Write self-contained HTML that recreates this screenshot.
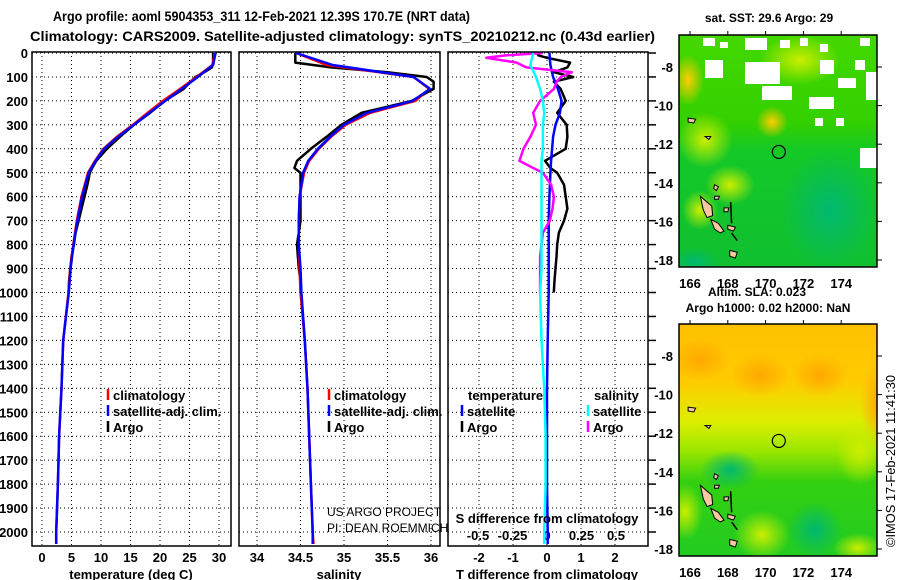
<!DOCTYPE html>
<html><head><meta charset="utf-8">
<style>
html,body{margin:0;padding:0;background:#fff;}
svg{display:block;font-family:"Liberation Sans",sans-serif;}
.t{font-size:13px;font-weight:bold;fill:#000;}
</style></head>
<body>
<svg id="chart" width="900" height="580" viewBox="0 0 900 580" xmlns="http://www.w3.org/2000/svg">
<defs>
<clipPath id="cm1"><rect x="679" y="35" width="198" height="232"/></clipPath>
<clipPath id="cm2"><rect x="679" y="324" width="198" height="232"/></clipPath>
<linearGradient id="g2" x1="0" y1="0" x2="0" y2="1">
<stop offset="0" stop-color="#ffc000"/><stop offset="0.25" stop-color="#ffcc00"/><stop offset="0.42" stop-color="#ddee00"/><stop offset="0.55" stop-color="#99e600"/><stop offset="0.68" stop-color="#33d010"/><stop offset="1" stop-color="#22cc22"/>
</linearGradient>
<linearGradient id="g1" x1="0" y1="0" x2="0" y2="1">
<stop offset="0" stop-color="#44d800"/><stop offset="0.38" stop-color="#33d000"/><stop offset="0.5" stop-color="#14c828"/><stop offset="1" stop-color="#10c030"/>
</linearGradient>
<radialGradient id="rg1"><stop offset="0" stop-color="#ffa800"/><stop offset="1" stop-color="#ffa800" stop-opacity="0"/></radialGradient>
<radialGradient id="rg2"><stop offset="0" stop-color="#ccee00"/><stop offset="1" stop-color="#ccee00" stop-opacity="0"/></radialGradient>
<radialGradient id="rg3"><stop offset="0" stop-color="#00b870"/><stop offset="1" stop-color="#00b870" stop-opacity="0"/></radialGradient>
<radialGradient id="rg4"><stop offset="0" stop-color="#ffcc00"/><stop offset="1" stop-color="#ffcc00" stop-opacity="0"/></radialGradient>
</defs>
<text class="t" x="53" y="21" textLength="417" lengthAdjust="spacingAndGlyphs" style="font-size:14px">Argo profile: aoml 5904353_311 12-Feb-2021 12.39S 170.7E (NRT data)</text>
<text class="t" x="30" y="41" textLength="625" lengthAdjust="spacingAndGlyphs" style="font-size:14px">Climatology: CARS2009. Satellite-adjusted climatology: synTS_20210212.nc (0.43d earlier)</text>
<g id="plots"></g>
<g id="maps"></g>
<text class="t" transform="translate(895,547) rotate(-90)" textLength="172" lengthAdjust="spacingAndGlyphs" style="font-weight:normal;font-size:13px">©IMOS 17-Feb-2021 11:41:30</text>
</svg>
<script>
// ---- data ----
const climDepth = [0,50,100,150,200,250,300,350,400,450,500,600,700,800,900,1000,1200,1400,1600,1800,2000,2050];
const climT = [29.3,28.9,26.2,23.4,20.5,17.9,15.4,12.7,10.4,9.0,7.8,6.7,5.9,5.3,4.8,4.5,3.6,3.3,2.9,2.7,2.4,2.4];
const satT = [29.4,29.0,26.4,23.7,20.9,18.2,15.6,12.9,10.5,9.1,7.9,6.8,6.0,5.35,4.85,4.55,3.6,3.3,2.9,2.7,2.4,2.4];
const climS = [34.45,34.8,35.8,35.98,35.82,35.3,35.02,34.85,34.71,34.6,34.54,34.49,34.48,34.48,34.49,34.5,34.55,34.58,34.6,34.62,34.64,34.65];
const satS = [34.45,34.87,35.8,35.99,35.79,35.26,35.0,34.84,34.7,34.59,34.53,34.49,34.48,34.48,34.5,34.51,34.55,34.58,34.6,34.62,34.64,34.64];
const satTdiff = [0.07,0.1,0.18,0.32,0.43,0.38,0.25,0.18,0.15,0.12,0.1,0.07,0.05,0.05,0.05,0.05,0.02,0,0,0,0.02,0.02];
const satSdiff = [-0.1,-0.12,-0.08,-0.05,-0.03,-0.02,-0.03,-0.03,-0.03,-0.04,-0.04,-0.04,-0.04,-0.04,-0.04,-0.05,-0.04,-0.02,-0.01,-0.01,-0.02,-0.02];
const argoDepth = [0,10,20,40,60,80,100,120,150,200,250,300,350,400,450,480,500,550,600,650,700,750,800,850,900,950,1000];
const argoT = [29.0,29.0,29.0,29.0,28.8,27.5,26.0,25.2,24.0,20.8,18.3,15.6,13.2,11.0,9.2,8.5,8.1,7.7,7.2,6.7,6.2,5.7,5.4,5.0,4.8,4.6,4.5];
const argoS = [34.44,34.44,34.44,34.44,34.85,35.5,35.95,36.03,36.03,35.78,35.2,34.97,34.8,34.62,34.46,34.43,34.5,34.5,34.5,34.5,34.5,34.48,34.46,34.47,34.48,34.5,34.5];
const argoTdiff = [-0.3,-0.25,0.0,0.68,0.6,0.2,0.77,0.2,0.4,0.55,0.3,0.58,0.6,0.55,-0.06,0.1,0.3,0.5,0.55,0.6,0.5,0.35,0.3,0.28,0.25,0.22,0.2];
const argoSdiff = [-0.03,-0.3,-0.44,-0.22,-0.15,0.18,0.1,0.07,0.05,-0.05,-0.1,-0.08,-0.12,-0.17,-0.2,-0.1,-0.03,0.03,0.05,0.04,0.02,-0.03,-0.04,-0.05,-0.05,-0.05,-0.05];
const depthTicks = [0,100,200,300,400,500,600,700,800,900,1000,1100,1200,1300,1400,1500,1600,1700,1800,1900,2000];
const tTicks = [0,5,10,15,20,25,30];
const sTicks = [34,34.5,35,35.5,36];
const sTickLabels = ["34","34.5","35","35.5","36"];
const dTTicks = [-2,-1,0,1,2];
const dSTicks = [-0.5,-0.25,0,0.25,0.5];

const NS = "http://www.w3.org/2000/svg";
const plots = document.getElementById('plots');
function mk(tag, attrs, parent){const e=document.createElementNS(NS,tag);for(const k in attrs)e.setAttribute(k,attrs[k]);(parent||plots).appendChild(e);return e;}
const yD = d => 53 + d*0.2395;
const TOP=52, BOT=546;
const xT = v => 42 + v*5.9;
const xS = v => 257 + (v-34)*87;
const xdT = v => 547 + v*34;
const xdS = v => 547 + v*138;
const panels = [{l:32,r:231},{l:239,r:440},{l:448,r:648}];

panels.forEach((p,i)=>{
  depthTicks.forEach(d=>{
    const ln = mk('line',{x1:p.l,x2:p.r,y1:yD(d),y2:yD(d),stroke:'#000','stroke-width':1,'stroke-dasharray':'1,3'});
    
    
  });
});
tTicks.forEach(v=>{const ln=mk('line',{x1:xT(v),x2:xT(v),y1:TOP,y2:BOT,stroke:'#000','stroke-dasharray':'1,3'});
  
  const t=mk('text',{x:xT(v),y:562,'text-anchor':'middle',class:'t'});t.textContent=v;
  });
sTicks.forEach((v,i)=>{const ln=mk('line',{x1:xS(v),x2:xS(v),y1:TOP,y2:BOT,stroke:'#000','stroke-dasharray':'1,3'});
  
  const t=mk('text',{x:xS(v),y:562,'text-anchor':'middle',class:'t'});t.textContent=sTickLabels[i];
  });
dTTicks.forEach(v=>{const ln=mk('line',{x1:xdT(v),x2:xdT(v),y1:TOP,y2:BOT,stroke:'#000','stroke-dasharray':'1,3'});
  
  const t=mk('text',{x:xdT(v),y:562,'text-anchor':'middle',class:'t'});t.textContent=v;
  });
dSTicks.forEach(v=>{const t=mk('text',{x:xdS(v),y:540,'text-anchor':'middle',class:'t'});t.textContent=v;
  });
depthTicks.forEach(d=>{const t=mk('text',{x:28,y:yD(d)+5,'text-anchor':'end',class:'t'});t.textContent=d;
  
  const tk=mk('line',{x1:648,x2:656,y1:yD(d),y2:yD(d),stroke:'#000','stroke-width':1.5});
  });

function series(xs, ys, xf, color, name){
  const pts = xs.map((v,i)=>xf(v).toFixed(1)+','+yD(ys[i]).toFixed(1)).join(' ');
  const pl = mk('polyline',{points:pts,fill:'none',stroke:color,'stroke-width':2.5,'stroke-linejoin':'round'});
  
  
}
series(argoT,argoDepth,xT,'#000','argo-temperature-line');
series(climT,climDepth,xT,'#ff0000','climatology-temperature-line');
series(satT,climDepth,xT,'#0000ff','satellite-temperature-line');
series(argoS,argoDepth,xS,'#000','argo-salinity-line');
series(climS,climDepth,xS,'#ff0000','climatology-salinity-line');
series(satS,climDepth,xS,'#0000ff','satellite-salinity-line');
series(argoTdiff,argoDepth,xdT,'#000','argo-t-diff-line');
series(satTdiff,climDepth,xdT,'#0000ff','satellite-t-diff-line');
series(argoSdiff,argoDepth,xdS,'#ff00ff','argo-s-diff-line');
series(satSdiff,climDepth,xdS,'#00ffff','satellite-s-diff-line');

panels.forEach(p=>{const r=mk('rect',{x:p.l,y:TOP,width:p.r-p.l,height:BOT-TOP,fill:'none',stroke:'#000','stroke-width':1.5});
  });

[['temperature (deg C)',131,'temperature-axis-title'],['salinity',339,'salinity-axis-title'],['T difference from climatology',547,'t-diff-axis-title']].forEach(a=>{
  const t=mk('text',{x:a[1],y:579,'text-anchor':'middle',class:'t'});t.textContent=a[0];
  });
{const t=mk('text',{x:547,y:523,'text-anchor':'middle',class:'t'});t.textContent='S difference from climatology';
 }

function legend(x,y,color,label,name){
  const g=mk('g',{});
  mk('line',{x1:x,x2:x,y1:y-11,y2:y,stroke:color,'stroke-width':2.5},g);
  const t=mk('text',{x:x+5,y:y,class:'t'},g);t.textContent=label;
}
legend(108,400,'#ff0000','climatology','legend-climatology');
legend(108,416,'#0000ff','satellite-adj. clim.','legend-satellite-adj');
legend(108,432,'#000','Argo','legend-argo');
legend(329,400,'#ff0000','climatology','legend-climatology-s');
legend(329,416,'#0000ff','satellite-adj. clim.','legend-satellite-adj-s');
legend(329,432,'#000','Argo','legend-argo-s');
{const t=mk('text',{x:468,y:400,class:'t'});t.textContent='temperature';
 const t2=mk('text',{x:594,y:400,class:'t'});t2.textContent='salinity';}
legend(462,416,'#0000ff','satellite','legend-t-satellite');
legend(462,432,'#000','Argo','legend-t-argo');
legend(588,416,'#00ffff','satellite','legend-s-satellite');
legend(588,432,'#ff00ff','Argo','legend-s-argo');
{const t=mk('text',{x:327,y:516,style:'font-size:12px'});t.textContent='US ARGO PROJECT';
 const t2=mk('text',{x:327,y:532,style:'font-size:12px'});t2.textContent='PI: DEAN ROEMMICH';}

// ---- maps ----
const maps = document.getElementById('maps');
const lonTicks = [166,168,170,172,174];
const latTicks = [-8,-10,-12,-14,-16,-18];
const argoLon = 170.7, argoLat = -12.4;
function mapAxes(top, latY0, name){
  const lx = lon => 690 + (lon-166)*18.9;
  const ly = lat => latY0 + (-8-lat)*19.3;
  lonTicks.forEach(v=>{
    const t=mk('text',{x:lx(v),y:top+253,'text-anchor':'middle',class:'t'},maps);t.textContent=v;
    
    mk('line',{x1:lx(v),x2:lx(v),y1:top-4,y2:top,stroke:'#000'},maps);
  });
  latTicks.forEach(v=>{
    const t=mk('text',{x:673,y:ly(v)+5,'text-anchor':'end',class:'t'},maps);t.textContent=v;
    
    mk('line',{x1:877,x2:882,y1:ly(v),y2:ly(v),stroke:'#000'},maps);
  });
  const c=mk('circle',{cx:lx(argoLon),cy:ly(argoLat),r:6.5,fill:'none',stroke:'#000','stroke-width':1.2},maps);
  
  const fr=mk('rect',{x:679,y:top,width:198,height:232,fill:'none',stroke:'#000','stroke-width':1.5},maps);
  
  return [lx,ly];
}
function islands(lx,ly,clip){
  const g=mk('g',{'clip-path':clip},maps);
  
  const shapes=[[[166.55,-14.7],[166.9,-15.0],[167.15,-15.2],[167.2,-15.7],[166.9,-15.8],[166.7,-15.4]],
    [[167.1,-15.9],[167.5,-16.1],[167.8,-16.5],[167.6,-16.6],[167.3,-16.4]],
    [[168.0,-16.2],[168.4,-16.3],[168.3,-16.5],[168.0,-16.4]],
    [[168.1,-17.5],[168.5,-17.6],[168.4,-17.9],[168.1,-17.8]],
    [[165.9,-10.65],[166.3,-10.7],[166.2,-10.9],[165.9,-10.85]],
    [[167.3,-14.1],[167.5,-14.2],[167.4,-14.4],[167.25,-14.3]],
    [[167.3,-14.7],[167.55,-14.7],[167.5,-14.85],[167.3,-14.85]],
    [[167.8,-15.3],[168.05,-15.3],[168.0,-15.5],[167.8,-15.5]],
    [[166.8,-11.6],[167.1,-11.6],[167.0,-11.75]]];
  shapes.forEach(s=>mk('polygon',{points:s.map(p=>lx(p[0])+','+ly(p[1])).join(' '),fill:'#f8c8a0',stroke:'#000','stroke-width':1},g));
  mk('line',{x1:lx(168.15),y1:ly(-15.0),x2:lx(168.2),y2:ly(-16.1),stroke:'#000','stroke-width':1.5},g);
  mk('line',{x1:lx(168.2),y1:ly(-16.6),x2:lx(168.5),y2:ly(-17.0),stroke:'#000','stroke-width':1.5},g);
}
// map 1 (SST)
{
  const g=mk('g',{'clip-path':'url(#cm1)'},maps);
  
  mk('rect',{x:679,y:35,width:198,height:232,fill:'url(#g1)'},g);
  mk('ellipse',{cx:688,cy:80,rx:16,ry:26,fill:'url(#rg4)'},g);
  mk('ellipse',{cx:772,cy:122,rx:16,ry:16,fill:'url(#rg4)'},g);
  mk('ellipse',{cx:705,cy:140,rx:28,ry:28,fill:'url(#rg2)'},g);
  mk('ellipse',{cx:730,cy:185,rx:25,ry:20,fill:'url(#rg2)'},g);
  mk('ellipse',{cx:700,cy:210,rx:18,ry:20,fill:'url(#rg2)'},g);
  mk('ellipse',{cx:800,cy:60,rx:40,ry:25,fill:'url(#rg2)'},g);
  mk('ellipse',{cx:830,cy:210,rx:50,ry:60,fill:'url(#rg3)'},g);
  mk('ellipse',{cx:695,cy:262,rx:25,ry:15,fill:'url(#rg3)'},g);
  [[703,38,12,8],[720,42,8,6],[745,38,22,12],[705,60,18,18],[745,62,35,22],[762,86,30,14],[780,40,10,8],[800,38,8,8],[820,44,8,8],[860,38,10,8],[809,97,25,12],[820,60,14,14],[855,60,10,10],[866,72,11,28],[838,78,18,10],[815,118,8,8],[836,118,8,8],[860,148,17,20]].forEach(r=>
    mk('rect',{x:r[0],y:r[1],width:r[2],height:r[3],fill:'#fff'},g));
  const [lx,ly]=mapAxes(35,67,'sst-map');
  islands(lx,ly,'url(#cm1)');
  const t=mk('text',{x:769,y:22,'text-anchor':'middle',class:'t',style:'font-size:12px'},maps);t.textContent='sat. SST: 29.6 Argo: 29';
  
}
// map 2 (SLA)
{
  const g=mk('g',{'clip-path':'url(#cm2)'},maps);
  
  mk('rect',{x:679,y:324,width:198,height:232,fill:'url(#g2)'},g);
  mk('ellipse',{cx:700,cy:360,rx:30,ry:22,fill:'url(#rg1)'},g);
  mk('ellipse',{cx:760,cy:375,rx:30,ry:22,fill:'url(#rg1)'},g);
  mk('ellipse',{cx:820,cy:375,rx:28,ry:22,fill:'url(#rg1)'},g);
  mk('ellipse',{cx:878,cy:405,rx:18,ry:45,fill:'url(#rg1)'},g);
  mk('ellipse',{cx:860,cy:450,rx:25,ry:35,fill:'url(#rg2)'},g);
  mk('ellipse',{cx:762,cy:535,rx:28,ry:25,fill:'url(#rg2)'},g);
  mk('ellipse',{cx:685,cy:512,rx:18,ry:28,fill:'url(#rg2)'},g);
  mk('ellipse',{cx:858,cy:548,rx:25,ry:15,fill:'url(#rg2)'},g);
  mk('ellipse',{cx:815,cy:530,rx:28,ry:28,fill:'url(#rg3)'},g);
  mk('ellipse',{cx:730,cy:470,rx:30,ry:20,fill:'url(#rg3)'},g);
  const [lx,ly]=mapAxes(324,356,'sla-map');
  islands(lx,ly,'url(#cm2)');
  const t=mk('text',{x:757,y:296,'text-anchor':'middle',class:'t',style:'font-size:12px'},maps);t.textContent='Altim. SLA: 0.023';
  
  const t2=mk('text',{x:768,y:312,'text-anchor':'middle',class:'t',style:'font-size:12px'},maps);t2.textContent='Argo h1000: 0.02 h2000: NaN';
  
}
</script>
</body></html>
